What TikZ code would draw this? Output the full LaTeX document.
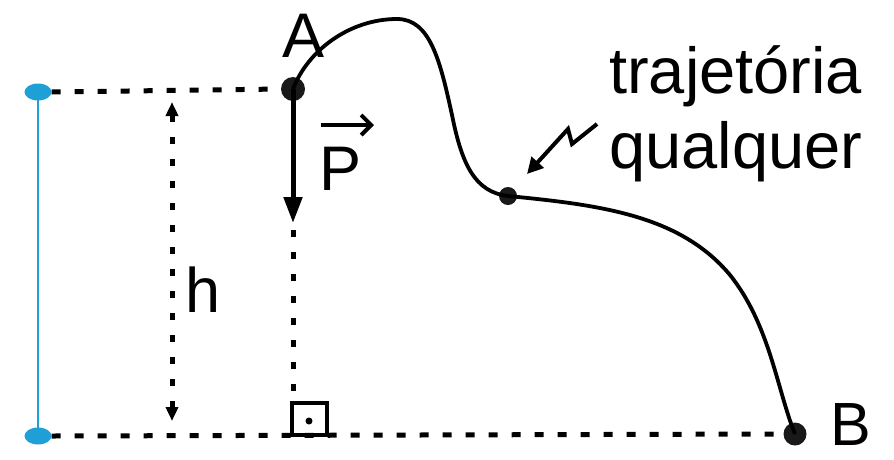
\documentclass[tikz,border=0pt]{standalone}
\usepackage{fontspec}
\setmainfont{Liberation Sans}
\usetikzlibrary{arrows.meta,shapes.geometric}
\definecolor{skyblue}{RGB}{30,159,214}
\begin{document}
\begin{tikzpicture}[x=1pt,y=-1pt,
  guide/.style={line width=5pt,dash pattern=on 9pt off 14pt},
  vguide/.style={line width=5pt,dash pattern=on 7pt off 15pt},
  lbl/.style={font=\fontsize{63}{63}\selectfont,inner sep=0pt,anchor=base},
  dotpt/.style={circle,fill=black!90,inner sep=0pt,minimum size=#1},
  blueend/.style={ellipse,fill=skyblue,inner sep=0pt,minimum width=27pt,minimum height=17pt}]
\useasboundingbox (0,0) rectangle (894,459);
% points
\node[dotpt=24pt] (A) at (293,89) {};
\node[dotpt=18pt] (M) at (508,196) {};
\node[dotpt=23pt] (B) at (795,434) {};
\coordinate (Pend) at (293,223);
\coordinate (Pv0) at (293,230);
\coordinate (Pv1) at (293,392);
\coordinate (H0) at (172,102);
\coordinate (H1) at (172,421);
\coordinate (Z0) at (597,124);
\coordinate (Z1) at (572,144);
\coordinate (Z2) at (568,129);
\coordinate (Z3) at (527,174);
% blue ends
\draw[skyblue,line width=2.2pt] (38,92) -- (38,436);
\node[blueend] (E1) at (38,92) {};
\node[blueend] (E2) at (38,436) {};
% dashed guides
\draw[guide] (E1.east) -- (A.west);
\draw[guide] (E2.east) -- (B.west);
\draw[vguide] (Pv0) -- (Pv1);
\draw[vguide,{Triangle[length=14pt,width=12pt]}-{Triangle[length=14pt,width=12pt]}] (H0) -- (H1);
% trajectory
\draw[line width=3.8pt] (A.center) .. controls (308,50) and (350,19) .. (397,19)
  .. controls (430,19) and (440,60) .. (452,115)
  .. controls (462,165) and (475,192) .. (M.center)
  .. controls (600,205) and (680,215) .. (730,275)
  .. controls (770,325) and (777,390) .. (B.center);
% weight vector
\draw[line width=5pt,-{Triangle[length=26pt,width=18pt]}] (A.center) -- (Pend);
% right angle
\draw[line width=4pt] (292,403) rectangle (327,435);
\fill (309,421) circle (3.5pt);
% zigzag arrow
\draw[line width=4pt,-{Triangle[length=16pt,width=16pt]}] (Z0) -- (Z1) -- (Z2) -- (Z3);
% labels
\node[lbl] (lA) at (304,57) {A};
\node[lbl] (lP) at (341,190) {P};
\draw[line width=4pt,-{Straight Barb[length=10pt,width=20pt]}] (321,125) -- (374,125);
\node[lbl,font=\fontsize{61}{61}\selectfont] (lB) at (851,445) {B};
\node[lbl] (lh) at (203,312) {h};
\node[lbl,anchor=base west,font=\fontsize{65}{65}\selectfont] (t1) at (609,93) {trajetória};
\node[lbl,anchor=base west,font=\fontsize{65}{65}\selectfont] (t2) at (609,168) {qualquer};
\end{tikzpicture}
\end{document}
